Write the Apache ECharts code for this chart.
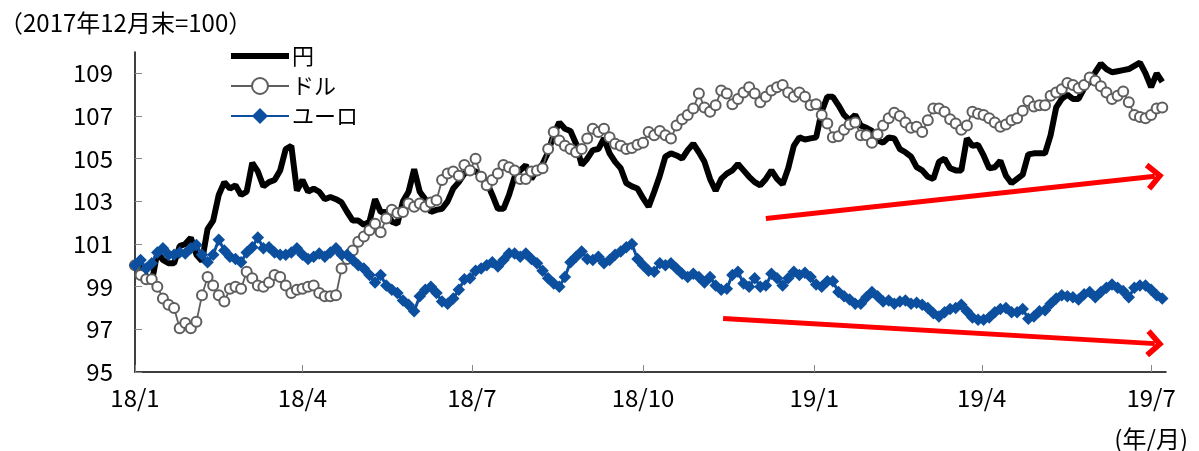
<!DOCTYPE html>
<html><head><meta charset="utf-8">
<script src="https://cdn.jsdelivr.net/npm/echarts@6/dist/echarts.min.js"></script>
<style>html,body{margin:0;padding:0;background:#fff}#c{width:1199px;height:451px}</style>
</head><body><div id="c"></div>
<script>
// x axis: one category per calendar day from 2018-01-01; a point every stepDays days
const startDate = '2018-01-01';
const axisDays = 555;
const stepDays = 3;
const monthTicks = ['01', '04', '07', '10'];
const seriesNames = ['円', 'ドル', 'ユーロ'];
const titleText = '（2017年12月末=100）';
const unitText = '(年/月)';

const yen = [100.0,99.9,99.5,99.2,100.6,100.25,100.1,100.1,100.9,101.0,101.3,100.5,100.2,101.7,102.1,103.3,103.9,103.6,103.75,103.3,
103.45,104.8,104.4,103.7,103.9,104.0,104.45,105.45,105.6,103.5,104.0,103.45,103.6,103.45,103.1,103.2,103.1,102.95,102.5,102.1,
102.1,101.9,102.05,103.1,102.5,102.5,102.05,101.95,103.0,103.45,104.5,103.45,103.1,102.5,102.6,102.65,103.0,103.6,103.9,104.3,
104.45,104.4,104.2,103.9,103.3,102.65,102.65,103.3,104.15,104.45,104.7,104.05,104.45,104.75,105.3,106.15,106.7,106.4,106.3,105.7,
104.7,105.0,105.4,105.45,105.95,105.25,104.85,104.55,103.85,103.7,103.6,103.15,102.75,103.45,104.2,105.1,105.25,105.15,105.0,105.4,
105.7,105.3,104.85,104.05,103.5,104.05,104.3,104.45,104.75,104.45,104.15,103.9,103.75,104.05,104.45,104.05,103.8,104.55,105.6,106.0,
105.9,105.95,106.0,107.2,107.9,107.9,107.5,107.05,106.8,107.05,106.55,106.45,106.3,105.85,105.75,106.0,105.95,105.45,105.3,105.1,
104.6,104.45,104.15,104.05,104.85,105.0,104.55,104.45,104.45,105.95,105.6,105.65,105.15,104.55,104.6,104.9,104.2,103.85,104.05,104.25,
105.2,105.25,105.25,105.25,106.1,107.4,107.8,108.0,107.8,107.8,108.3,108.6,109.05,109.45,109.2,109.05,109.1,109.15,109.2,109.35,
109.5,109.0,108.35,109.0,108.6];

const usd = [100.0,99.55,99.35,99.35,99.0,98.45,98.15,98.0,97.05,97.3,97.05,97.35,98.6,99.45,99.05,98.6,98.3,98.9,99.0,98.9,
99.7,99.4,99.05,99.0,99.2,99.55,99.45,99.05,98.7,98.85,98.9,99.0,99.05,98.7,98.55,98.55,98.6,99.85,100.3,100.7,
101.1,101.35,101.65,101.95,101.55,102.2,102.6,102.45,102.5,102.9,102.75,102.9,102.75,102.95,103.05,104.0,104.3,104.4,104.2,104.7,
104.45,105.0,104.15,103.75,104.0,104.3,104.7,104.6,104.45,104.05,104.05,104.4,104.45,104.55,105.45,106.25,105.85,105.6,105.45,105.3,
105.45,105.95,106.4,106.25,106.4,106.0,105.7,105.6,105.45,105.5,105.65,105.75,106.25,106.1,106.3,106.1,105.95,106.55,106.85,107.05,
107.35,108.05,107.4,107.2,107.5,108.2,108.05,107.55,107.8,108.1,108.35,108.05,107.65,107.9,108.2,108.35,108.45,108.1,107.9,108.1,
107.9,107.5,107.55,107.05,106.65,106.0,106.05,106.35,106.6,106.7,106.1,106.1,105.75,106.15,106.55,106.9,107.15,107.0,106.7,106.45,
106.5,106.25,106.8,107.35,107.35,107.2,106.85,106.65,106.35,106.55,107.2,107.1,107.05,106.9,106.7,106.5,106.6,106.8,106.9,107.25,
107.7,107.45,107.5,107.5,107.95,108.1,108.25,108.55,108.45,108.3,108.45,108.8,108.65,108.4,108.1,107.8,107.95,108.15,107.65,107.05,
106.95,106.9,107.05,107.35,107.4];

const eur = [100.0,100.25,99.85,100.1,100.6,100.8,100.5,100.5,100.6,100.55,100.8,100.95,100.5,100.15,100.5,101.2,100.7,100.4,100.3,100.15,
100.6,100.85,101.3,100.8,100.85,100.6,100.5,100.5,100.6,100.8,100.5,100.3,100.4,100.55,100.4,100.6,100.8,100.5,100.5,100.25,
100.0,99.85,99.55,99.2,99.55,99.05,98.85,98.7,98.35,98.15,97.85,98.55,98.85,99.0,98.7,98.3,98.2,98.45,98.85,99.35,
99.4,99.75,99.85,100.0,100.15,99.95,100.25,100.55,100.55,100.4,100.55,100.3,100.1,99.75,99.4,99.15,99.0,99.45,100.15,100.4,
100.65,100.3,100.25,100.4,100.1,100.25,100.5,100.65,100.85,101.0,100.3,100.0,99.75,99.7,100.1,100.0,100.1,99.85,99.6,99.45,
99.6,99.45,99.2,99.45,99.05,98.85,98.9,99.55,99.7,99.15,99.0,99.4,99.0,99.05,99.6,99.4,99.05,99.4,99.7,99.55,
99.65,99.45,99.1,99.0,99.25,99.25,98.75,98.55,98.4,98.2,98.2,98.5,98.75,98.55,98.3,98.35,98.2,98.3,98.35,98.2,
98.25,98.15,98.0,97.75,97.6,97.8,97.95,98.0,98.15,97.85,97.55,97.45,97.45,97.55,97.8,97.95,98.0,97.8,97.8,97.95,
97.5,97.6,97.85,97.9,98.2,98.45,98.6,98.55,98.5,98.4,98.65,98.75,98.5,98.75,98.95,99.1,98.95,98.8,98.5,98.95,
99.05,99.05,98.85,98.6,98.45];

// annotation arrows [date, value] start -> end
const upArrow = [['2018-12-06', 102.2], ['2019-07-03', 104.18]];
const downArrow = [['2018-11-13', 97.51], ['2019-07-03', 96.33]];

const yMin = 95, yMax = 110, yStep = 2;

const FONT = "'Noto Sans CJK JP', sans-serif";
const cats = [];
const d0 = new Date(startDate + 'T00:00:00Z').getTime();
for (let k = 0; k < axisDays; k++) cats.push(new Date(d0 + k * 86400000).toISOString().slice(0, 10));
const isTick = (idx, v) => v.slice(8) === '01' && monthTicks.includes(v.slice(5, 7));
const toPts = arr => arr.map((v, i) => [i * stepDays, v]);
const chevron = 'path://M14,0 L28,14 L24,18 L14,8 L4,18 L0,14 Z';

const chart = echarts.init(document.getElementById('c'), null, {renderer: 'canvas'});
chart.setOption({
  animation: false,
  backgroundColor: '#fff',
  title: [
    {text: titleText, left: -6, top: 6, textStyle: {fontSize: 24, fontWeight: 'normal', color: '#000', fontFamily: FONT}},
    {text: unitText, right: 6, top: 422, textStyle: {fontSize: 24, fontWeight: 'normal', color: '#000', fontFamily: FONT}}
  ],
  legend: {
    data: [
      {name: seriesNames[0], icon: 'path://M0,0 H58 V6 H0 Z'},
      {name: seriesNames[1]},
      {name: seriesNames[2]}
    ],
    orient: 'vertical', left: 225, top: 40,
    itemWidth: 58, itemHeight: 20, itemGap: 8,
    textStyle: {fontSize: 22, color: '#000', fontFamily: FONT, padding: [0, 0, 0, -2]}
  },
  grid: {left: 135, right: 33, top: 52, bottom: 79},
  xAxis: {
    type: 'category', data: cats, boundaryGap: false,
    axisLine: {lineStyle: {color: '#000', width: 1.5}},
    axisTick: {inside: true, length: 7, interval: isTick, lineStyle: {color: '#888'}},
    axisLabel: {interval: isTick, fontSize: 24, color: '#000', margin: 14, fontFamily: FONT,
      formatter: v => v.slice(2, 4) + '/' + (+v.slice(5, 7))},
    splitLine: {show: false}
  },
  yAxis: {
    type: 'value', min: yMin, max: yMax, interval: yStep,
    axisLine: {show: true, lineStyle: {color: '#000', width: 1.5}},
    axisTick: {show: true, inside: true, length: 7, lineStyle: {color: '#888'}},
    axisLabel: {fontSize: 24, color: '#000', margin: 22, fontFamily: FONT, showMaxLabel: false},
    splitLine: {show: false}
  },
  series: [
    {name: seriesNames[0], type: 'line', data: toPts(yen), showSymbol: false, symbol: 'none',
      lineStyle: {color: '#000', width: 6}, itemStyle: {color: '#000'}},
    {name: seriesNames[1], type: 'line', data: toPts(usd), symbol: 'circle', symbolSize: 10, showAllSymbol: true,
      lineStyle: {color: '#5e5e5e', width: 1.8}, itemStyle: {color: '#fff', borderColor: '#5e5e5e', borderWidth: 2}},
    {name: seriesNames[2], type: 'line', data: toPts(eur), symbol: 'diamond', symbolSize: 12.5, showAllSymbol: true,
      lineStyle: {color: '#0b4f9e', width: 3}, itemStyle: {color: '#0b4f9e'},
      markLine: {
        silent: true, symbol: ['none', chevron], symbolSize: [28, 18],
        label: {show: false}, emphasis: {disabled: true},
        lineStyle: {color: '#ff0000', width: 5, type: 'solid', opacity: 1},
        data: [
          [{coord: upArrow[0]}, {coord: upArrow[1]}],
          [{coord: downArrow[0]}, {coord: downArrow[1]}]
        ]
      }}
  ]
});
</script></body></html>
